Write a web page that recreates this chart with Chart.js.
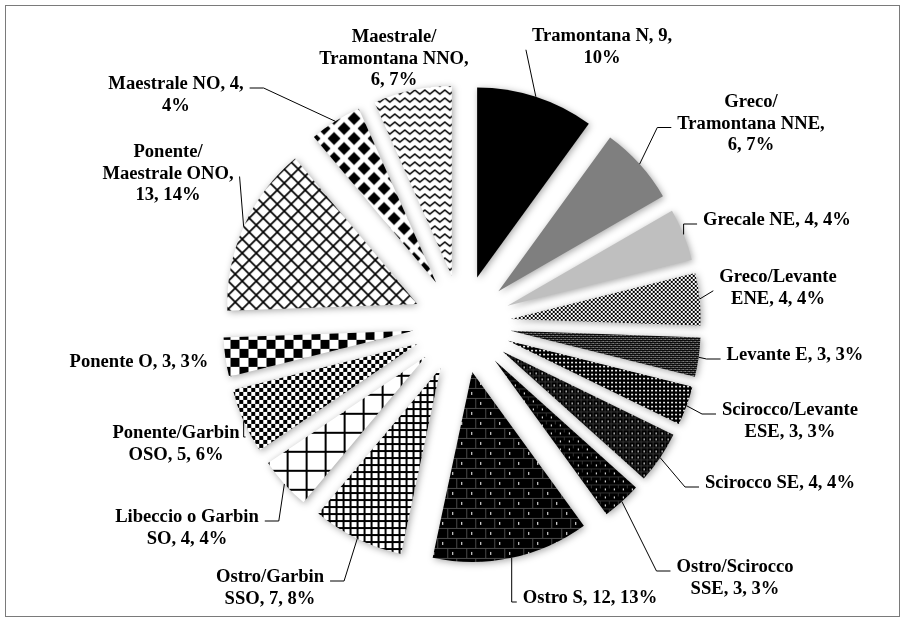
<!DOCTYPE html>
<html>
<head>
<meta charset="utf-8">
<script src="https://cdn.jsdelivr.net/npm/chart.js@4.4.0/dist/chart.umd.min.js"></script>
<style>
  html, body { margin: 0; padding: 0; background: #fff; }
  #wrap { width: 905px; height: 622px; }
</style>
</head>
<body>
<div id="wrap"><canvas id="myChart" width="905" height="622"></canvas></div>
<script>
// wind directions and how many times each one was recorded
var directions = ['Tramontana N', 'Greco/Tramontana NNE', 'Grecale NE', 'Greco/Levante ENE',
    'Levante E', 'Scirocco/Levante ESE', 'Scirocco SE', 'Ostro/Scirocco SSE',
    'Ostro S', 'Ostro/Garbin SSO', 'Libeccio o Garbin SO', 'Ponente/Garbin OSO',
    'Ponente O', 'Ponente/Maestrale ONO', 'Maestrale NO', 'Maestrale/Tramontana NNO'];
var counts = [9, 6, 4, 4, 3, 3, 4, 3, 12, 7, 4, 5, 3, 13, 4, 6];

// label layout: centre x / first baseline, wrap width, leader style
var labelSpots = [[602, 41], [751, 107], [777, 225], [778, 282], [795, 360], [790, 415],
    [780, 488], [735, 572], [590, 603], [270, 582], [187, 522], [176, 438],
    [139, 367], [168, 157], [176, 89], [394, 42]];
var labelWrap = [155, 150, 175, 140, 175, 150, 175, 135, 175, 125, 155, 145, 175, 138, 150, 155];
var leaders = ['straight', 'elbow', 'elbow', 'straight', 'elbow', 'elbow', 'elbow', 'elbow',
    'elbow', 'elbow', 'elbow', 'elbow', 'none', 'straight', 'elbow', 'none'];

var EXPLODE = 49;
var LINE_H = 21.5;
var FONT = 'bold 18.6px "Liberation Serif", "Times New Roman", serif';

function tile(w, h, paint) {
    var c = document.createElement('canvas');
    c.width = w; c.height = h;
    var g = c.getContext('2d');
    paint(g, w, h);
    return g.createPattern(c, 'repeat');
}
function checker(n) {
    return tile(2 * n, 2 * n, function(g) {
        g.fillStyle = '#fff'; g.fillRect(0, 0, 2 * n, 2 * n);
        g.fillStyle = '#000'; g.fillRect(0, 0, n, n); g.fillRect(n, n, n, n);
    });
}
function grid(n, lw) {
    return tile(n, n, function(g) {
        g.fillStyle = '#fff'; g.fillRect(0, 0, n, n);
        g.fillStyle = '#000'; g.fillRect(0, 0, n, lw); g.fillRect(0, 0, lw, n);
    });
}

var fills = [
    '#000000',
    '#7f7f7f',
    '#bfbfbf',
    checker(2),
    tile(4, 4, function(g) {
        g.fillStyle = '#000'; g.fillRect(0, 0, 4, 4);
        g.fillStyle = '#fff'; g.fillRect(0, 0, 1, 1); g.fillRect(2, 2, 1, 1);
        g.fillStyle = '#9a9a9a'; g.fillRect(2, 0, 1, 1); g.fillRect(0, 2, 1, 1);
    }),
    tile(4, 4, function(g) {
        g.fillStyle = '#000'; g.fillRect(0, 0, 4, 4);
        g.fillStyle = '#fff'; g.fillRect(1, 1, 2, 1);
        g.fillStyle = '#777'; g.fillRect(1, 2, 2, 1);
    }),
    tile(6, 6, function(g) {
        g.fillStyle = '#000'; g.fillRect(0, 0, 6, 6);
        g.fillStyle = '#333'; g.fillRect(0, 0, 6, 1); g.fillRect(0, 0, 1, 6);
        g.fillStyle = '#fff'; g.fillRect(3, 3, 1, 2);
    }),
    tile(9, 8, function(g) {
        g.fillStyle = '#000'; g.fillRect(0, 0, 9, 8);
        g.fillStyle = '#333'; g.fillRect(0, 0, 9, 1); g.fillRect(0, 0, 1, 4);
        g.fillStyle = '#fff'; g.fillRect(5, 4, 1, 2);
    }),
    tile(19, 20, function(g) {
        g.fillStyle = '#000'; g.fillRect(0, 0, 19, 20);
        g.fillStyle = '#4a4a4a'; g.fillRect(0, 0, 19, 1); g.fillRect(0, 10, 19, 1); g.fillRect(0, 0, 1, 10); g.fillRect(9, 10, 1, 10);
        g.fillStyle = '#fff'; g.fillRect(5, 4, 1, 3); g.fillRect(14, 14, 1, 3);
    }),
    grid(7, 2),
    grid(19, 2),
    checker(4),
    checker(9),
    tile(14, 14, function(g) {
        g.fillStyle = '#fff'; g.fillRect(0, 0, 14, 14);
        g.strokeStyle = '#000'; g.lineWidth = 1.7;
        g.beginPath(); g.moveTo(-1, -1); g.lineTo(15, 15); g.moveTo(15, -1); g.lineTo(-1, 15); g.stroke();
    }),
    tile(20, 20, function(g) {
        g.fillStyle = '#fff'; g.fillRect(0, 0, 20, 20);
        g.fillStyle = '#000';
        [[10, 10], [0, 0], [20, 0], [0, 20], [20, 20]].forEach(function(p) {
            g.beginPath(); g.moveTo(p[0], p[1] - 6.5); g.lineTo(p[0] + 6.5, p[1]);
            g.lineTo(p[0], p[1] + 6.5); g.lineTo(p[0] - 6.5, p[1]); g.closePath(); g.fill();
        });
    }),
    tile(10, 8, function(g) {
        g.fillStyle = '#fff'; g.fillRect(0, 0, 10, 8);
        g.strokeStyle = '#000'; g.lineWidth = 1.6;
        g.beginPath(); g.moveTo(-2.5, 4); g.lineTo(0, 6); g.lineTo(5, 2); g.lineTo(10, 6); g.lineTo(12.5, 4); g.stroke();
    })
];

var total = counts.reduce(function(a, b) { return a + b; }, 0);

function wrapLabel(ctx, text, maxW) {
    var pieces = [];
    text.split(' ').forEach(function(w, i) {
        w.split(/(?<=\/)/).forEach(function(p, j) {
            pieces.push({ t: p, sep: (j === 0 && i > 0) ? ' ' : '' });
        });
    });
    var lines = [], cur = '';
    pieces.forEach(function(p) {
        var test = cur ? cur + p.sep + p.t : p.t;
        if (cur && ctx.measureText(test).width > maxW) { lines.push(cur); cur = p.t; }
        else cur = test;
    });
    if (cur) lines.push(cur);
    return lines;
}

var explodedPie = {
    id: 'explodedPie',
    beforeDraw: function(chart) {
        var ctx = chart.ctx;
        ctx.save();
        ctx.fillStyle = '#fff';
        ctx.fillRect(0, 0, chart.width, chart.height);
        ctx.strokeStyle = '#7a7a7a';
        ctx.lineWidth = 1;
        ctx.strokeRect(5.5, 5.5, 894, 611);
        ctx.restore();
    },
    beforeDatasetDraw: function(chart, args) {
        var ctx = chart.ctx;
        args.meta.data.forEach(function(arc) {
            var mid = (arc.startAngle + arc.endAngle) / 2;
            ctx.save();
            ctx.translate(Math.cos(mid) * EXPLODE, Math.sin(mid) * EXPLODE);
            ctx.shadowColor = 'rgba(0,0,0,0.35)';
            ctx.shadowBlur = 7;
            ctx.shadowOffsetX = 1.5;
            ctx.shadowOffsetY = 1.5;
            arc.draw(ctx);
            ctx.restore();
        });
        return false;
    },
    afterDatasetsDraw: function(chart) {
        var ctx = chart.ctx;
        var arcs = chart.getDatasetMeta(0).data;
        ctx.save();
        ctx.font = FONT;
        ctx.fillStyle = '#000';
        ctx.strokeStyle = '#000';
        ctx.lineWidth = 1;
        ctx.textAlign = 'center';
        ctx.textBaseline = 'alphabetic';
        arcs.forEach(function(arc, i) {
            var pct = Math.round(counts[i] / total * 100);
            var text = directions[i] + ', ' + counts[i] + ', ' + pct + '%';
            var lines = wrapLabel(ctx, text, labelWrap[i]);
            var cx = labelSpots[i][0], by = labelSpots[i][1];
            var maxW = 0;
            lines.forEach(function(l, k) {
                ctx.fillText(l, cx, by + k * LINE_H);
                maxW = Math.max(maxW, ctx.measureText(l).width);
            });
            if (leaders[i] === 'none') return;
            var mid = (arc.startAngle + arc.endAngle) / 2;
            var rr = EXPLODE + arc.outerRadius;
            var px = arc.x + Math.cos(mid) * rr, py = arc.y + Math.sin(mid) * rr;
            var right = px > arc.x;
            var endX = right ? cx - maxW / 2 - 6 : cx + maxW / 2 + 6;
            ctx.beginPath();
            ctx.moveTo(px, py);
            if (leaders[i] === 'straight') {
                var endY = by + (lines.length - 1) * LINE_H / 2 - 2;
                ctx.lineTo(endX, endY);
            } else {
                var ly = by + Math.floor((lines.length - 1) / 2) * LINE_H - 1;
                var ex = right ? endX - 14 : endX + 14;
                if (right && px > ex) ex = px;
                if (!right && px < ex) ex = px;
                ctx.lineTo(ex, ly);
                ctx.lineTo(endX, ly);
            }
            ctx.stroke();
        });
        ctx.restore();
    }
};

var ctx = document.getElementById('myChart').getContext('2d');
var chart = new Chart(ctx, {
    type: 'pie',
    data: {
        labels: directions,
        datasets: [{
            data: counts,
            backgroundColor: fills,
            borderWidth: 0,
            radius: 190
        }]
    },
    options: {
        responsive: false,
        animation: false,
        events: [],
        devicePixelRatio: 1,
        layout: { padding: { left: 19, top: 26, right: 0, bottom: 0 } },
        plugins: {
            legend: { display: false },
            tooltip: { enabled: false }
        }
    },
    plugins: [explodedPie]
});
</script>
</body>
</html>
